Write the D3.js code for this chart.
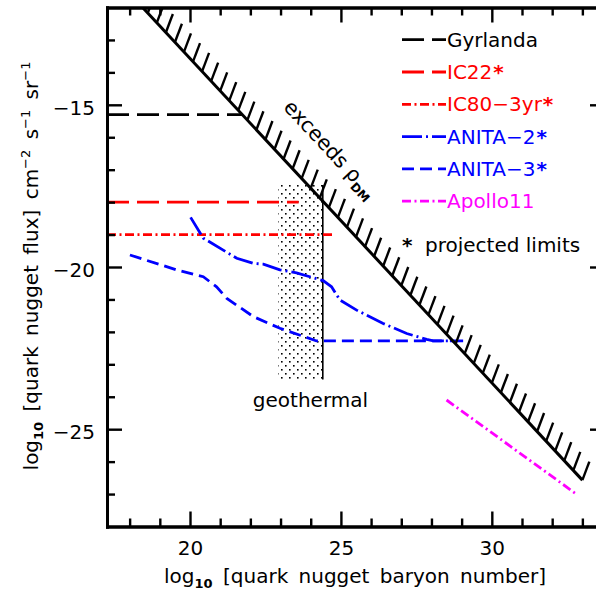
<!DOCTYPE html>
<html><head><meta charset="utf-8">
<script src="https://cdn.jsdelivr.net/npm/d3@7"></script>
<style>
body{margin:0;background:#fff}
svg{display:block;font-family:"DejaVu Sans",sans-serif}
</style></head>
<body><svg id="c" width="596" height="592"></svg>
<script>
// ---------- data ----------
const xDomain = [17.25, 33.75];
const yDomain = [-28, -12];
const xMajorTicks = [20, 25, 30];
const yMajorTicks = [-25, -20, -15];
const xMinorTicks = d3.range(18, 34, 1);
const yMinorTicks = d3.range(-27, -12, 1);

const boundaryX = [18.43, 33.0];
const boundaryY = [-12.0, -26.57];

const gyrlandaX = [17.25, 21.73];
const gyrlandaY = [-15.3, -15.3];
const ic22X = [17.25, 23.6];
const ic22Y = [-18.0, -18.0];
const ic80X = [17.25, 24.8];
const ic80Y = [-19.0, -19.0];
const anita2X = [20.02, 20.44, 21.55, 22.10, 22.43, 22.98, 23.53, 23.97, 24.41, 24.69, 24.97, 25.52, 26.40, 27.18, 27.84, 28.06, 29.05];
const anita2Y = [-18.47, -19.11, -19.73, -19.89, -19.91, -20.09, -20.18, -20.30, -20.42, -20.61, -21.02, -21.33, -21.74, -22.05, -22.23, -22.28, -22.28];
const anita3X = [18.01, 19.56, 20.44, 20.88, 21.22, 22.10, 22.98, 23.86, 24.19, 28.71];
const anita3Y = [-19.63, -20.09, -20.30, -20.61, -20.97, -21.53, -21.89, -22.17, -22.28, -22.28];
const apolloX = [28.5, 32.8];
const apolloY = [-24.1, -27.0];

const geoX = [22.92, 24.4];
const geoY = [-23.47, -17.47];

const legendLabels = ["Gyrlanda", "IC22", "IC80\u22123yr", "ANITA\u22122", "ANITA\u22123", "Apollo11"];
const legendStars = [false, true, true, true, true, false];
const legendColors = ["#000000", "#ff0000", "#ff0000", "#0000ff", "#0000ff", "#ff00ff"];
const legendDashes = ["22,8", "22,8", "9,3.5,2,3.5", "20,4,2,4", "12,6", "9,3.5,2,3.5"];

// ---------- chart ----------
const svg = d3.select("#c");
const x = d3.scaleLinear().domain(xDomain).range([107, 605]);
const y = d3.scaleLinear().domain(yDomain).range([526.5, 7.5]);

svg.append("defs").call(d => {
  d.append("clipPath").attr("id", "clip").append("rect")
    .attr("x", x(xDomain[0])).attr("y", y(yDomain[1]))
    .attr("width", x(xDomain[1]) - x(xDomain[0])).attr("height", y(yDomain[0]) - y(yDomain[1]));
  const p = d.append("pattern").attr("id", "dots").attr("patternUnits", "userSpaceOnUse")
    .attr("width", 8).attr("height", 8);
  p.append("rect").attr("x", 1).attr("y", 1).attr("width", 1.6).attr("height", 1.6).attr("fill", "#000");
  p.append("rect").attr("x", 5).attr("y", 5).attr("width", 1.6).attr("height", 1.6).attr("fill", "#000");
});

const plot = svg.append("g").attr("clip-path", "url(#clip)");
const line = d3.line().x(d => x(d[0])).y(d => y(d[1]));
const zip = (a, b) => a.map((v, i) => [v, b[i]]);

// geothermal region
plot.append("rect")
  .attr("x", x(geoX[0])).attr("y", y(geoY[1]))
  .attr("width", x(geoX[1]) - x(geoX[0])).attr("height", y(geoY[0]) - y(geoY[1]))
  .attr("fill", "url(#dots)");
plot.append("line")
  .attr("x1", x(geoX[1])).attr("x2", x(geoX[1]))
  .attr("y1", y(geoY[1])).attr("y2", y(geoY[0]))
  .attr("stroke", "#000").attr("stroke-width", 1.6);

// series
const series = [
  [gyrlandaX, gyrlandaY, 0],
  [ic22X, ic22Y, 1],
  [ic80X, ic80Y, 2],
  [anita3X, anita3Y, 4],
  [anita2X, anita2Y, 3],
  [apolloX, apolloY, 5]
];
series.forEach(([xs, ys, k]) => {
  plot.append("path").attr("d", line(zip(xs, ys)))
    .attr("fill", "none").attr("stroke", legendColors[k])
    .attr("stroke-width", 2.8).attr("stroke-dasharray", legendDashes[k]);
});

// boundary + hatches
plot.append("path").attr("d", line(zip(boundaryX, boundaryY)))
  .attr("fill", "none").attr("stroke", "#000").attr("stroke-width", 3);
const bf = d3.scaleLinear().domain(boundaryX).range(boundaryY);
const hatchN = [];
for (let n = boundaryX[1]; n > boundaryX[0] - 0.7; n -= 0.3) hatchN.push(n);
plot.selectAll(".hatch").data(hatchN).join("line")
  .attr("x1", d => x(d)).attr("y1", d => y(bf(d)))
  .attr("x2", d => x(d) + 7).attr("y2", d => y(bf(d)) - 18.5)
  .attr("stroke", "#000").attr("stroke-width", 2.4);

// exceeds rho_DM label
{
  const n0 = 22.24;
  const ang = Math.atan2(y(bf(n0 + 1)) - y(bf(n0)), x(n0 + 1) - x(n0));
  const nx = Math.sin(ang), ny = -Math.cos(ang);
  const px = x(n0) + nx * 34, py = y(bf(n0)) + ny * 34;
  const t = svg.append("text")
    .attr("transform", `translate(${px},${py}) rotate(${ang * 180 / Math.PI})`)
    .attr("font-size", 20.5).attr("fill", "#000");
  t.append("tspan").text("exceeds \u03c1");
  t.append("tspan").attr("font-size", 12).attr("font-weight", "bold").attr("dy", 5).text("DM");
}

// geothermal label
svg.append("text").attr("x", x(d3.mean(geoX)) + 10).attr("y", 407)
  .attr("text-anchor", "middle").attr("font-size", 20).text("geothermal");

// ---------- axes ----------
const axW = 3, tkW = 2.4;
function styleAxis(g) {
  g.select(".domain").attr("stroke-width", axW).attr("stroke-linecap", "square");
  g.selectAll(".tick line").attr("stroke-width", tkW);
  g.selectAll("text").attr("font-family", "DejaVu Sans").attr("font-size", 20).attr("fill", "#000");
}
const yBot = y(yDomain[0]), yTop = y(yDomain[1]), xL = x(xDomain[0]), xR = x(xDomain[1]);

// bottom
svg.append("g").attr("transform", `translate(0,${yBot})`)
  .call(d3.axisBottom(x).tickValues(xMinorTicks.filter(v => !xMajorTicks.includes(v))).tickSize(-8).tickFormat("").tickSizeOuter(0)).call(styleAxis);
svg.append("g").attr("transform", `translate(0,${yBot})`)
  .call(d3.axisBottom(x).tickValues(xMajorTicks).tickSize(-15).tickSizeOuter(0).tickFormat(d3.format("d")))
  .call(styleAxis)
  .call(g => g.selectAll("text").attr("y", 28.5).attr("dy", null));
// top
svg.append("g").attr("transform", `translate(0,${yTop})`)
  .call(d3.axisTop(x).tickValues(xMinorTicks.filter(v => !xMajorTicks.includes(v))).tickSize(-8).tickFormat("").tickSizeOuter(0)).call(styleAxis);
svg.append("g").attr("transform", `translate(0,${yTop})`)
  .call(d3.axisTop(x).tickValues(xMajorTicks).tickSize(-15).tickFormat("").tickSizeOuter(0)).call(styleAxis);
// left
svg.append("g").attr("transform", `translate(${xL},0)`)
  .call(d3.axisLeft(y).tickValues(yMinorTicks.filter(v => !yMajorTicks.includes(v))).tickSize(-8).tickFormat("").tickSizeOuter(0)).call(styleAxis);
svg.append("g").attr("transform", `translate(${xL},0)`)
  .call(d3.axisLeft(y).tickValues(yMajorTicks).tickSize(-15).tickSizeOuter(0).tickFormat(d3.format("d")))
  .call(styleAxis)
  .call(g => g.selectAll("text").attr("x", -12).attr("dy", "0.47em"));
// right
svg.append("g").attr("transform", `translate(${xR},0)`)
  .call(d3.axisRight(y).tickValues(yMinorTicks.filter(v => !yMajorTicks.includes(v))).tickSize(-8).tickFormat("").tickSizeOuter(0)).call(styleAxis);
svg.append("g").attr("transform", `translate(${xR},0)`)
  .call(d3.axisRight(y).tickValues(yMajorTicks).tickSize(-15).tickFormat("").tickSizeOuter(0)).call(styleAxis);

// axis titles
{
  const t = svg.append("text").attr("x", 355).attr("y", 583).attr("text-anchor", "middle")
    .attr("font-size", 20).attr("word-spacing", 4);
  t.append("tspan").text("log");
  t.append("tspan").attr("font-size", 13).attr("font-weight", "bold").attr("dy", 5).text("10");
  t.append("tspan").attr("dy", -5).text(" [quark nugget baryon number]");
}
{
  const t = svg.append("text").attr("transform", "translate(38,266) rotate(-90)")
    .attr("text-anchor", "middle").attr("font-size", 20).attr("word-spacing", 4);
  t.append("tspan").text("log");
  t.append("tspan").attr("font-size", 13).attr("font-weight", "bold").attr("dy", 5).text("10");
  t.append("tspan").attr("dy", -5).text(" [quark nugget flux] cm");
  t.append("tspan").attr("font-size", 13).attr("dy", -8).text("\u22122");
  t.append("tspan").attr("dy", 8).text(" s");
  t.append("tspan").attr("font-size", 13).attr("dy", -8).text("\u22121");
  t.append("tspan").attr("dy", 8).text(" sr");
  t.append("tspan").attr("font-size", 13).attr("dy", -8).text("\u22121");
}

// ---------- legend ----------
const lg = svg.append("g");
legendLabels.forEach((lab, i) => {
  const base = 46.7 + 32.3 * i;
  lg.append("line").attr("x1", 402).attr("x2", 446).attr("y1", base - 7).attr("y2", base - 7)
    .attr("stroke", legendColors[i]).attr("stroke-width", 2.8).attr("stroke-dasharray", legendDashes[i]);
  const t = lg.append("text").attr("x", 447).attr("y", base).attr("font-size", 20).attr("fill", legendColors[i]);
  t.append("tspan").text(lab);
  if (legendStars[i]) t.append("tspan").attr("font-weight", "bold").attr("dx", 1).text("*");
});
lg.append("text").attr("x", 402).attr("y", 251.7).attr("font-size", 20).attr("font-weight", "bold").text("*");
lg.append("text").attr("x", 425).attr("y", 251.7).attr("font-size", 20).text("projected limits");
</script>
</body></html>
